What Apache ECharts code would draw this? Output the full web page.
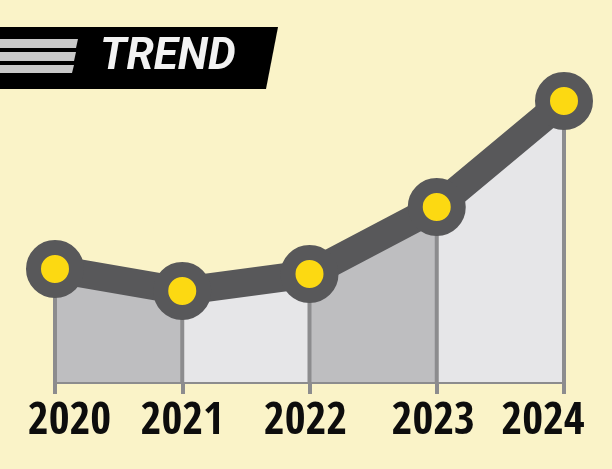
<!DOCTYPE html>
<html>
<head>
<meta charset="utf-8">
<script src="https://cdn.jsdelivr.net/npm/echarts@6/dist/echarts.min.js"></script>
<style>
html,body{margin:0;padding:0;background:#faf3c8;}
#chart{width:612px;height:469px;}
</style>
</head>
<body>
<div id="chart"></div>
<script>
// ---- data ----
const years = ['2020', '2021', '2022', '2023', '2024'];
const values = [113, 91, 108, 175, 281];
const title = 'TREND';

// ---- style / layout ----
const labelShift = [14.5, 0, -4, -3.5, -21]; // horizontal label offsets (px)
const segColors = ['#bebec0', '#e6e6e8', '#bebec0', '#e6e6e8'];
const dark = '#58585a';
const grey = '#8c8c8e';
const yellow = '#fcd912';

const catData = years.map((y, i) => {
  const s = labelShift[i];
  const pad = s >= 0 ? [0, 0, 0, 2 * s] : [0, -2 * s, 0, 0];
  return { value: y, textStyle: { padding: pad } };
});

const segSeries = [];
for (let i = 0; i < values.length - 1; i++) {
  const d = values.map((v, j) => (j === i || j === i + 1) ? v : null);
  segSeries.push({
    type: 'line', data: d, showSymbol: false, symbol: 'none', silent: true,
    lineStyle: { width: 0, opacity: 0 },
    areaStyle: { color: segColors[i], opacity: 1 },
    z: 1
  });
}

const chart = echarts.init(document.getElementById('chart'), null, { renderer: 'canvas' });
chart.setOption({
  backgroundColor: '#faf3c8',
  animation: false,
  grid: { left: 55, right: 48, top: 82, bottom: 87, containLabel: false },
  xAxis: {
    type: 'category', boundaryGap: false, data: catData,
    axisLine: { lineStyle: { color: grey, width: 4 } },
    axisTick: { show: true, interval: 0, length: 12, lineStyle: { color: grey, width: 4 } },
    axisLabel: {
      interval: 0, margin: 18, color: '#0d0d0d',
      fontFamily: '"Open Sans Condensed", "Roboto Condensed", sans-serif',
      fontWeight: 'bold', fontSize: 45
    },
    splitLine: { show: false }
  },
  yAxis: { type: 'value', min: 0, max: 300, show: false },
  series: segSeries.concat([
    {
      type: 'bar', data: values, barWidth: 4, clip: false, silent: true,
      itemStyle: { color: grey }, z: 2
    },
    {
      type: 'line', data: values, z: 3, silent: true,
      lineStyle: { color: dark, width: 28 },
      symbol: 'circle', symbolSize: 43, showSymbol: true,
      itemStyle: { color: yellow, borderColor: dark, borderWidth: 15 }
    }
  ]),
  graphic: [
    { type: 'polygon', shape: { points: [[0, 27], [278, 27], [266, 89], [0, 89]] }, style: { fill: '#000000' } },
    { type: 'polygon', shape: { points: [[0, 39], [78, 39], [76, 48], [0, 48]] }, style: { fill: '#c9c9c9' } },
    { type: 'polygon', shape: { points: [[0, 52], [76, 52], [74, 61], [0, 61]] }, style: { fill: '#c9c9c9' } },
    { type: 'polygon', shape: { points: [[0, 65], [74, 65], [72, 73], [0, 73]] }, style: { fill: '#c9c9c9' } },
    {
      type: 'text', x: 100, y: 58,
      style: {
        text: title, fill: '#f2f2f2',
        font: 'italic bold 44px Roboto, "Liberation Sans", sans-serif',
        verticalAlign: 'middle', align: 'left'
      }
    }
  ]
});
</script>
</body>
</html>
